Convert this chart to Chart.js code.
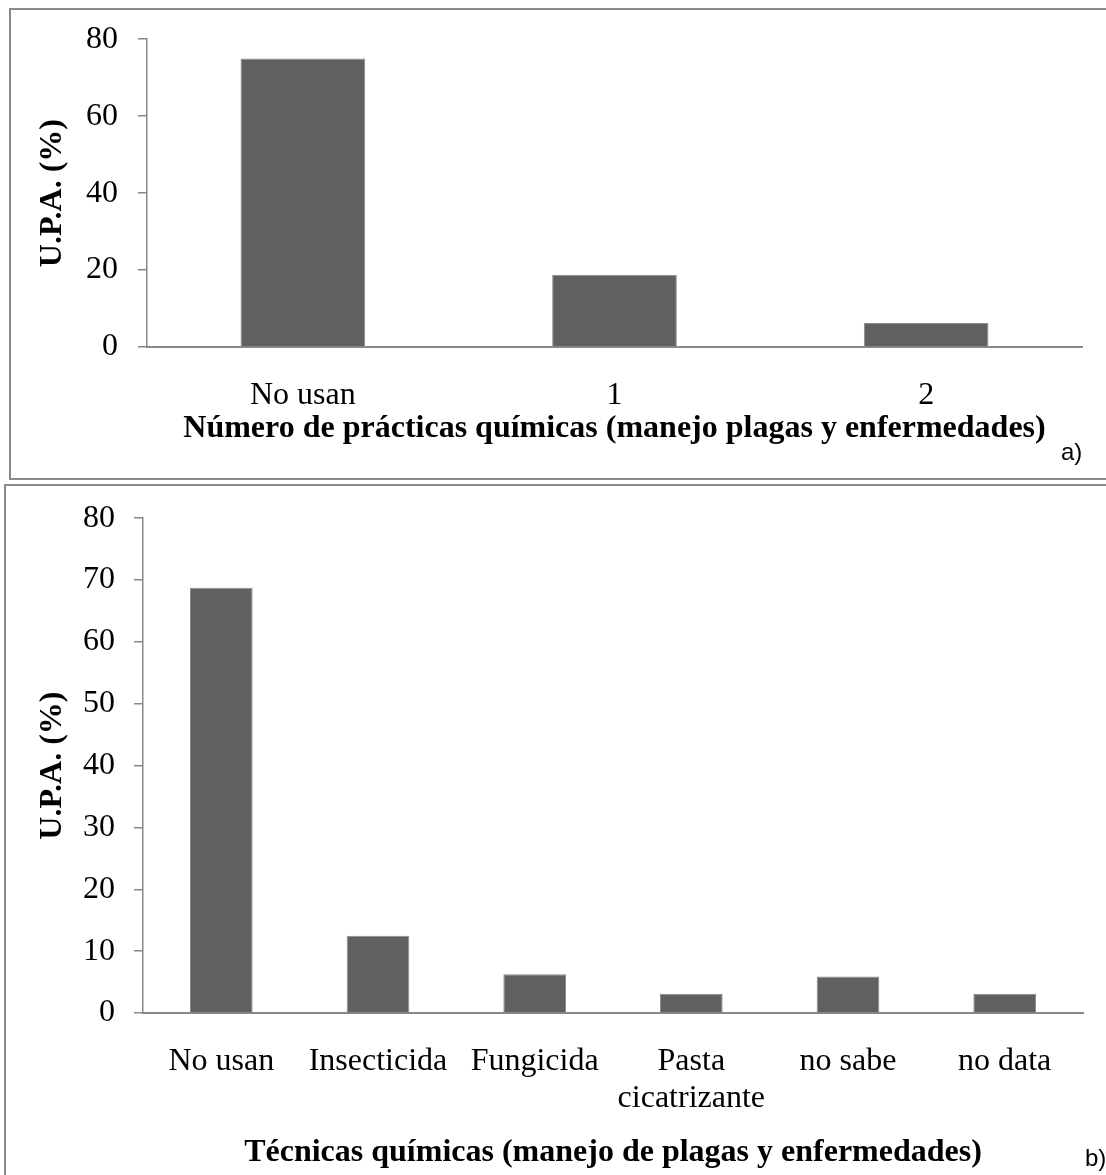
<!DOCTYPE html>
<html>
<head>
<meta charset="utf-8">
<script src="https://cdn.jsdelivr.net/npm/chart.js@4.4.0/dist/chart.umd.min.js"></script>
<style>
  body { margin: 0; background: #fff; width: 1106px; height: 1175px; position: relative; overflow: hidden; }
  .frame { position: absolute; border-left: 2px solid #8a8a8a; border-top: 2px solid #8a8a8a; }
  #frameA { left: 9px; top: 8px; width: 1110px; height: 468px; border-bottom: 2px solid #8a8a8a; }
  #frameB { left: 4px; top: 484px; width: 1110px; height: 700px; }
  canvas { position: absolute; left: 0; }
  .tag { position: absolute; font-family: "Liberation Sans", Arial, sans-serif; font-size: 24px; color: #000; }
</style>
</head>
<body>
<div class="frame" id="frameA"></div>
<div class="frame" id="frameB"></div>
<canvas id="chartA" width="1106" height="480" style="top:0"></canvas>
<canvas id="chartB" width="1106" height="695" style="top:480px"></canvas>
<div class="tag" style="left:1061px; top:438px;">a)</div>
<div class="tag" style="left:1085px; top:1144px;">b)</div>
<script>
// panel a) number of chemical practices
const labelsA = ['No usan', '1', '2'];
const valuesA = [75, 18.75, 6.25];
const yTicksA = [0, 20, 40, 60, 80];

// panel b) chemical techniques
const labelsB = ['No usan', 'Insecticida', 'Fungicida', ['Pasta', 'cicatrizante'], 'no sabe', 'no data'];
const valuesB = [68.75, 12.5, 6.25, 3.125, 5.9, 3.125];
const yTicksB = [0, 10, 20, 30, 40, 50, 60, 70, 80];

const serif = '"Liberation Serif", "Times New Roman", serif';
const axisGray = '#888888';
const barGray = '#606060';

// builds one bar chart; sizes are pixel targets for the plot area
const makeChart = (id, labels, values, yTicks, xTitle, s) => {
    const ctx = document.getElementById(id).getContext('2d');
    return new Chart(ctx, {
        type: 'bar',
        data: {
            labels: labels,
            datasets: [{
                data: values,
                backgroundColor: barGray,
                borderColor: '#8c8c8c',
                borderWidth: 1,
                barPercentage: 1,
                categoryPercentage: 0.4
            }]
        },
        options: {
            responsive: false,
            animation: false,
            devicePixelRatio: 1,
            layout: { padding: { left: 30, top: s.top, right: s.right, bottom: s.bottom } },
            plugins: { legend: { display: false }, tooltip: { enabled: false } },
            scales: {
                x: {
                    grid: { display: false },
                    border: { display: true, color: axisGray, width: 2 },
                    ticks: { color: '#000', padding: 22, maxRotation: 0, autoSkip: false,
                             font: { family: serif, size: 32, lineHeight: 1.15 } },
                    title: { display: true, text: xTitle, color: '#000',
                             padding: { top: 0, bottom: 4 },
                             font: { family: serif, size: 32, weight: 'bold', lineHeight: 1.15 } },
                    afterFit: (scale) => { scale.height = s.xHeight; }
                },
                y: {
                    min: 0,
                    max: yTicks[yTicks.length - 1],
                    afterBuildTicks: (scale) => { scale.ticks = yTicks.map(v => ({ value: v })); },
                    grid: { display: true, drawOnChartArea: false, drawTicks: true, tickLength: 9,
                            color: axisGray, lineWidth: 1.5 },
                    border: { display: true, color: axisGray, width: 1.5 },
                    ticks: { color: '#000', padding: s.yPad,
                             font: { family: serif, size: 32 } },
                    title: { display: true, text: 'U.P.A. (%)', color: '#000',
                             padding: { top: 4, bottom: 0 },
                             font: { family: serif, size: 32, weight: 'bold', lineHeight: 1.15 } },
                    afterFit: (scale) => { scale.width = s.yWidth; }
                }
            }
        }
    });
};

makeChart('chartA', labelsA, valuesA, yTicksA,
    'Número de prácticas químicas (manejo plagas y enfermedades)',
    { top: 39, right: 24, bottom: 29, xHeight: 104, yWidth: 117, yPad: 20 });

makeChart('chartB', labelsB, valuesB, yTicksB,
    'Técnicas químicas (manejo de plagas y enfermedades)',
    { top: 35, right: 23, bottom: 0, xHeight: 162, yWidth: 113, yPad: 19 });
</script>
</body>
</html>
